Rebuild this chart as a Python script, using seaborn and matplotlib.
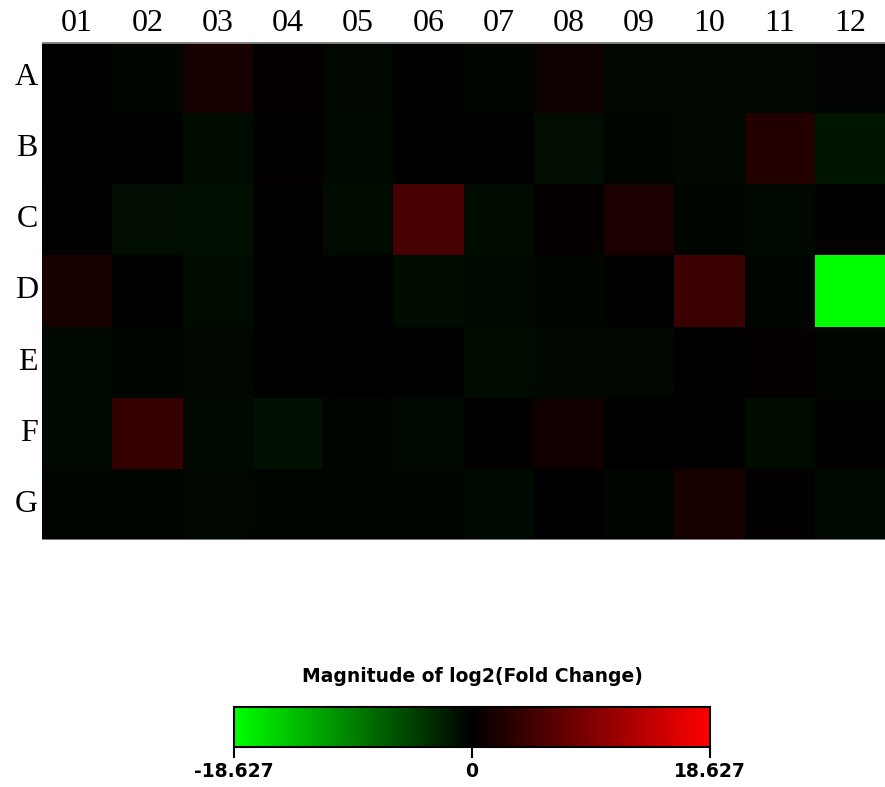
import numpy as np
import pandas as pd
import matplotlib
matplotlib.use("Agg")
import matplotlib.pyplot as plt
import seaborn as sns
from matplotlib.colors import LinearSegmentedColormap

rows = ["A", "B", "C", "D", "E", "F", "G"]
cols = ["01", "02", "03", "04", "05", "06", "07", "08", "09", "10", "11", "12"]
row_A = [0.0, -0.3, 1.8, 0.3, -0.5, -0.1, -0.4, 1.0, -0.5, -0.5, -0.5, -0.2]
row_B = [0.0, 0.1, -0.8, 0.2, -0.7, 0.0, 0.1, -0.9, -0.4, -0.5, 2.6, -1.6]
row_C = [-0.1, -0.9, -1.1, 0.1, -0.8, 5.1, -0.8, 0.3, 1.9, -0.4, -0.6, 0.2]
row_D = [1.7, 0.1, -0.8, 0.0, 0.1, -0.8, -0.6, -0.4, 0.0, 4.3, -0.3, -18.627]
row_E = [-0.6, -0.3, -0.5, 0.1, 0.1, -0.1, -0.8, -0.5, -0.5, 0.0, 0.4, -0.4]
row_F = [-0.7, 3.9, -0.7, -1.1, -0.4, -0.6, 0.2, 1.3, 0.0, 0.0, -0.8, 0.2]
row_G = [-0.3, -0.3, -0.5, -0.3, -0.4, -0.4, -0.7, 0.1, -0.4, 1.8, 0.2, -0.6]
vmax = 18.627
cbar_ticks = [-18.627, 0, 18.627]
cbar_ticklabels = ["-18.627", "0", "18.627"]
cbar_title = "Magnitude of log2(Fold Change)"

df = pd.DataFrame([row_A, row_B, row_C, row_D, row_E, row_F, row_G], index=rows, columns=cols)

cmap = LinearSegmentedColormap.from_list("gkr", ["#00ff00", "#000000", "#ff0000"])

W, H = 885, 787
fig = plt.figure(figsize=(W / 100, H / 100), dpi=100)
ax = fig.add_axes([42 / W, 1 - 540 / H, (885 - 42) / W, (540 - 42) / H])
cax = fig.add_axes([234 / W, 1 - 747 / H, (710 - 234) / W, (747 - 707) / H])

sns.heatmap(df, ax=ax, cmap=cmap, vmin=-vmax, vmax=vmax, cbar=True, cbar_ax=cax,
            cbar_kws={"orientation": "horizontal", "ticks": cbar_ticks})

serif = ["Liberation Serif", "DejaVu Serif"]
ax.xaxis.tick_top()
ax.set_xticks(np.arange(len(cols)) + 0.5)
ax.set_xticklabels(cols, fontsize=23, family=serif)
ax.set_yticks(np.arange(len(rows)) + 0.5)
ax.set_yticklabels(rows, fontsize=23, family=serif, rotation=0)
ax.tick_params(length=0, pad=3)
ax.set_xlabel("")
ax.set_ylabel("")
ax.axhline(0, color="#888888", lw=2)
ax.axhline(len(rows), color="#888888", lw=2)

cax.set_xticks(cbar_ticks)
cax.set_xticklabels(cbar_ticklabels, fontsize=13.5, fontweight="bold")
cax.tick_params(axis="x", length=8, width=1.5, color="black", pad=3)
cb = ax.collections[0].colorbar
cb.outline.set_linewidth(1.5)
cb.outline.set_edgecolor("black")

fig.text(472 / W, 1 - 677 / H, cbar_title, ha="center", va="center",
         fontsize=13.5, fontweight="bold")

fig.savefig("out.png", dpi=100)
